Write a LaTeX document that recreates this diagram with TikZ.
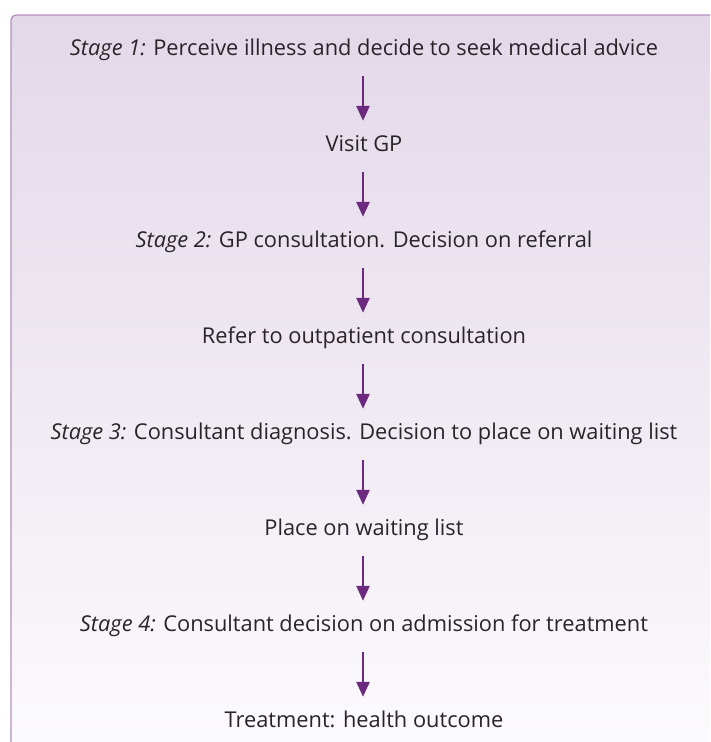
\documentclass[tikz,border=0pt]{standalone}
\usepackage{fontspec}
\setmainfont{Open Sans}
\usetikzlibrary{arrows.meta}
\definecolor{boxtop}{RGB}{227,216,232}
\definecolor{boxbot}{RGB}{252,251,253}
\definecolor{boxline}{RGB}{180,141,192}
\definecolor{arrowcol}{RGB}{107,42,128}
\definecolor{txtcol}{RGB}{40,36,40}
\tikzset{
  stagetext/.style={anchor=base, inner sep=0pt, text height=15pt, text depth=5pt,
    font=\fontsize{21.8}{24}\selectfont, text=txtcol},
  flowarrow/.style={draw=arrowcol, line width=2.6pt,
    -{Triangle[length=15pt,width=13pt]}, shorten <=16pt, shorten >=15pt},
}
\begin{document}
\begin{tikzpicture}[x=1pt,y=-1pt]
\useasboundingbox (0,0) rectangle (710,742);
\clip (0,0) rectangle (710,742);
\shade[top color=boxtop, bottom color=boxbot, rounded corners=5pt]
  (11,15) rectangle (730,760);
\draw[boxline, line width=1.3pt, rounded corners=5pt]
  (11,760) -- (11,15) -- (730,15);
\node[stagetext] (s1) at (364,55) {\textit{Stage 1:} Perceive illness and decide to seek medical advice};
\node[stagetext] (gp) at (364,151) {Visit GP};
\node[stagetext] (s2) at (364,247) {\textit{Stage 2:} GP consultation. Decision on referral};
\node[stagetext] (ref) at (364,343) {Refer to outpatient consultation};
\node[stagetext] (s3) at (364,439) {\textit{Stage 3:} Consultant diagnosis. Decision to place on waiting list};
\node[stagetext] (wl) at (364,535) {Place on waiting list};
\node[stagetext] (s4) at (364,631) {\textit{Stage 4:} Consultant decision on admission for treatment};
\node[stagetext] (tr) at (364,727) {Treatment: health outcome};
\foreach \a/\b in {s1/gp, gp/s2, s2/ref, ref/s3, s3/wl, wl/s4, s4/tr}
  \draw[flowarrow] (\a.south -| 363,0) -- (\b.north -| 363,0);
\end{tikzpicture}
\end{document}
